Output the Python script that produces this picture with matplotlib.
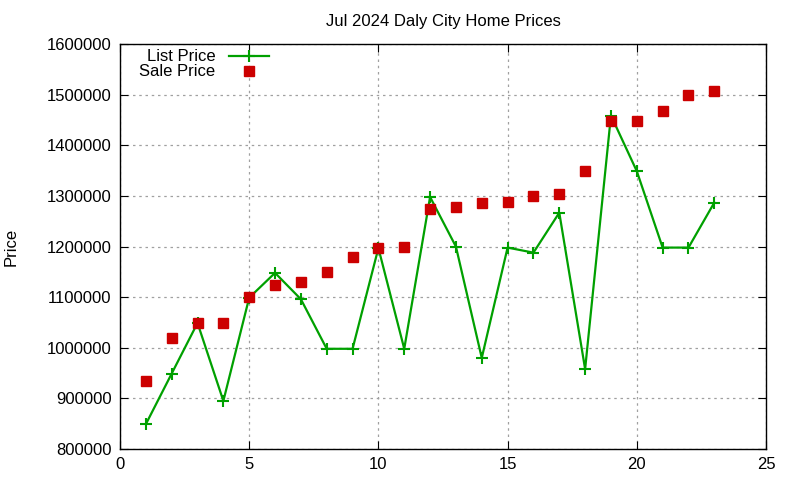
import numpy as np
import matplotlib.pyplot as plt

plt.rcParams['font.family'] = ['Liberation Sans', 'DejaVu Sans']

# Data
day = list(range(1, 24))
list_price = [849000, 949000, 1049000, 895000, 1099000, 1148000, 1096000, 998000,
              998000, 1197000, 998000, 1298000, 1200000, 980000, 1198000, 1188000,
              1267000, 958000, 1459000, 1349000, 1198000, 1198000, 1287000]
sale_price = [934000, 1019000, 1049000, 1049000, 1100000, 1124000, 1130000, 1150000,
              1180000, 1198000, 1200000, 1274000, 1279000, 1287000, 1289000, 1300000,
              1304000, 1350000, 1449000, 1449000, 1468000, 1500000, 1508000]
x_ticks = [0, 5, 10, 15, 20, 25]
y_ticks = [800000, 900000, 1000000, 1100000, 1200000, 1300000, 1400000, 1500000, 1600000]

fig = plt.figure(figsize=(8, 4.8), dpi=100)
ax = fig.add_axes([0.15, 0.0646, 0.8075, 0.8434])

ax.plot(day, list_price, color='#00a000', linewidth=1.6, marker='+',
        markersize=8, markeredgewidth=1.5, label='List Price')
ax.plot(day, sale_price, linestyle='none', color='#cc0000', marker='s',
        markersize=7, label='Sale Price')

ax.set_xlim(0, 25)
ax.set_ylim(800000, 1600000)
ax.set_xticks(x_ticks)
ax.set_yticks(y_ticks)
ax.set_yticklabels([str(v) for v in y_ticks])
ax.tick_params(direction='in', top=True, right=True, labelsize=12, length=6, pad=6)

ax.grid(color='#a0a0a0', linestyle=(0, (2, 3)), linewidth=0.9)
for s in ax.spines.values():
    s.set_linewidth(1)

ax.set_title('Jul 2024 Daly City Home Prices', fontsize=12, pad=13)
ax.set_ylabel('Price', fontsize=12, labelpad=20)

leg = ax.legend(loc='upper left', bbox_to_anchor=(0.009, 1.02), frameon=False,
                markerfirst=False, fontsize=12, handlelength=2.4,
                labelspacing=0.0, borderpad=0.3, handletextpad=0.8)
for t in leg.get_texts():
    t.set_ha('right')

fig.savefig('out.png')
